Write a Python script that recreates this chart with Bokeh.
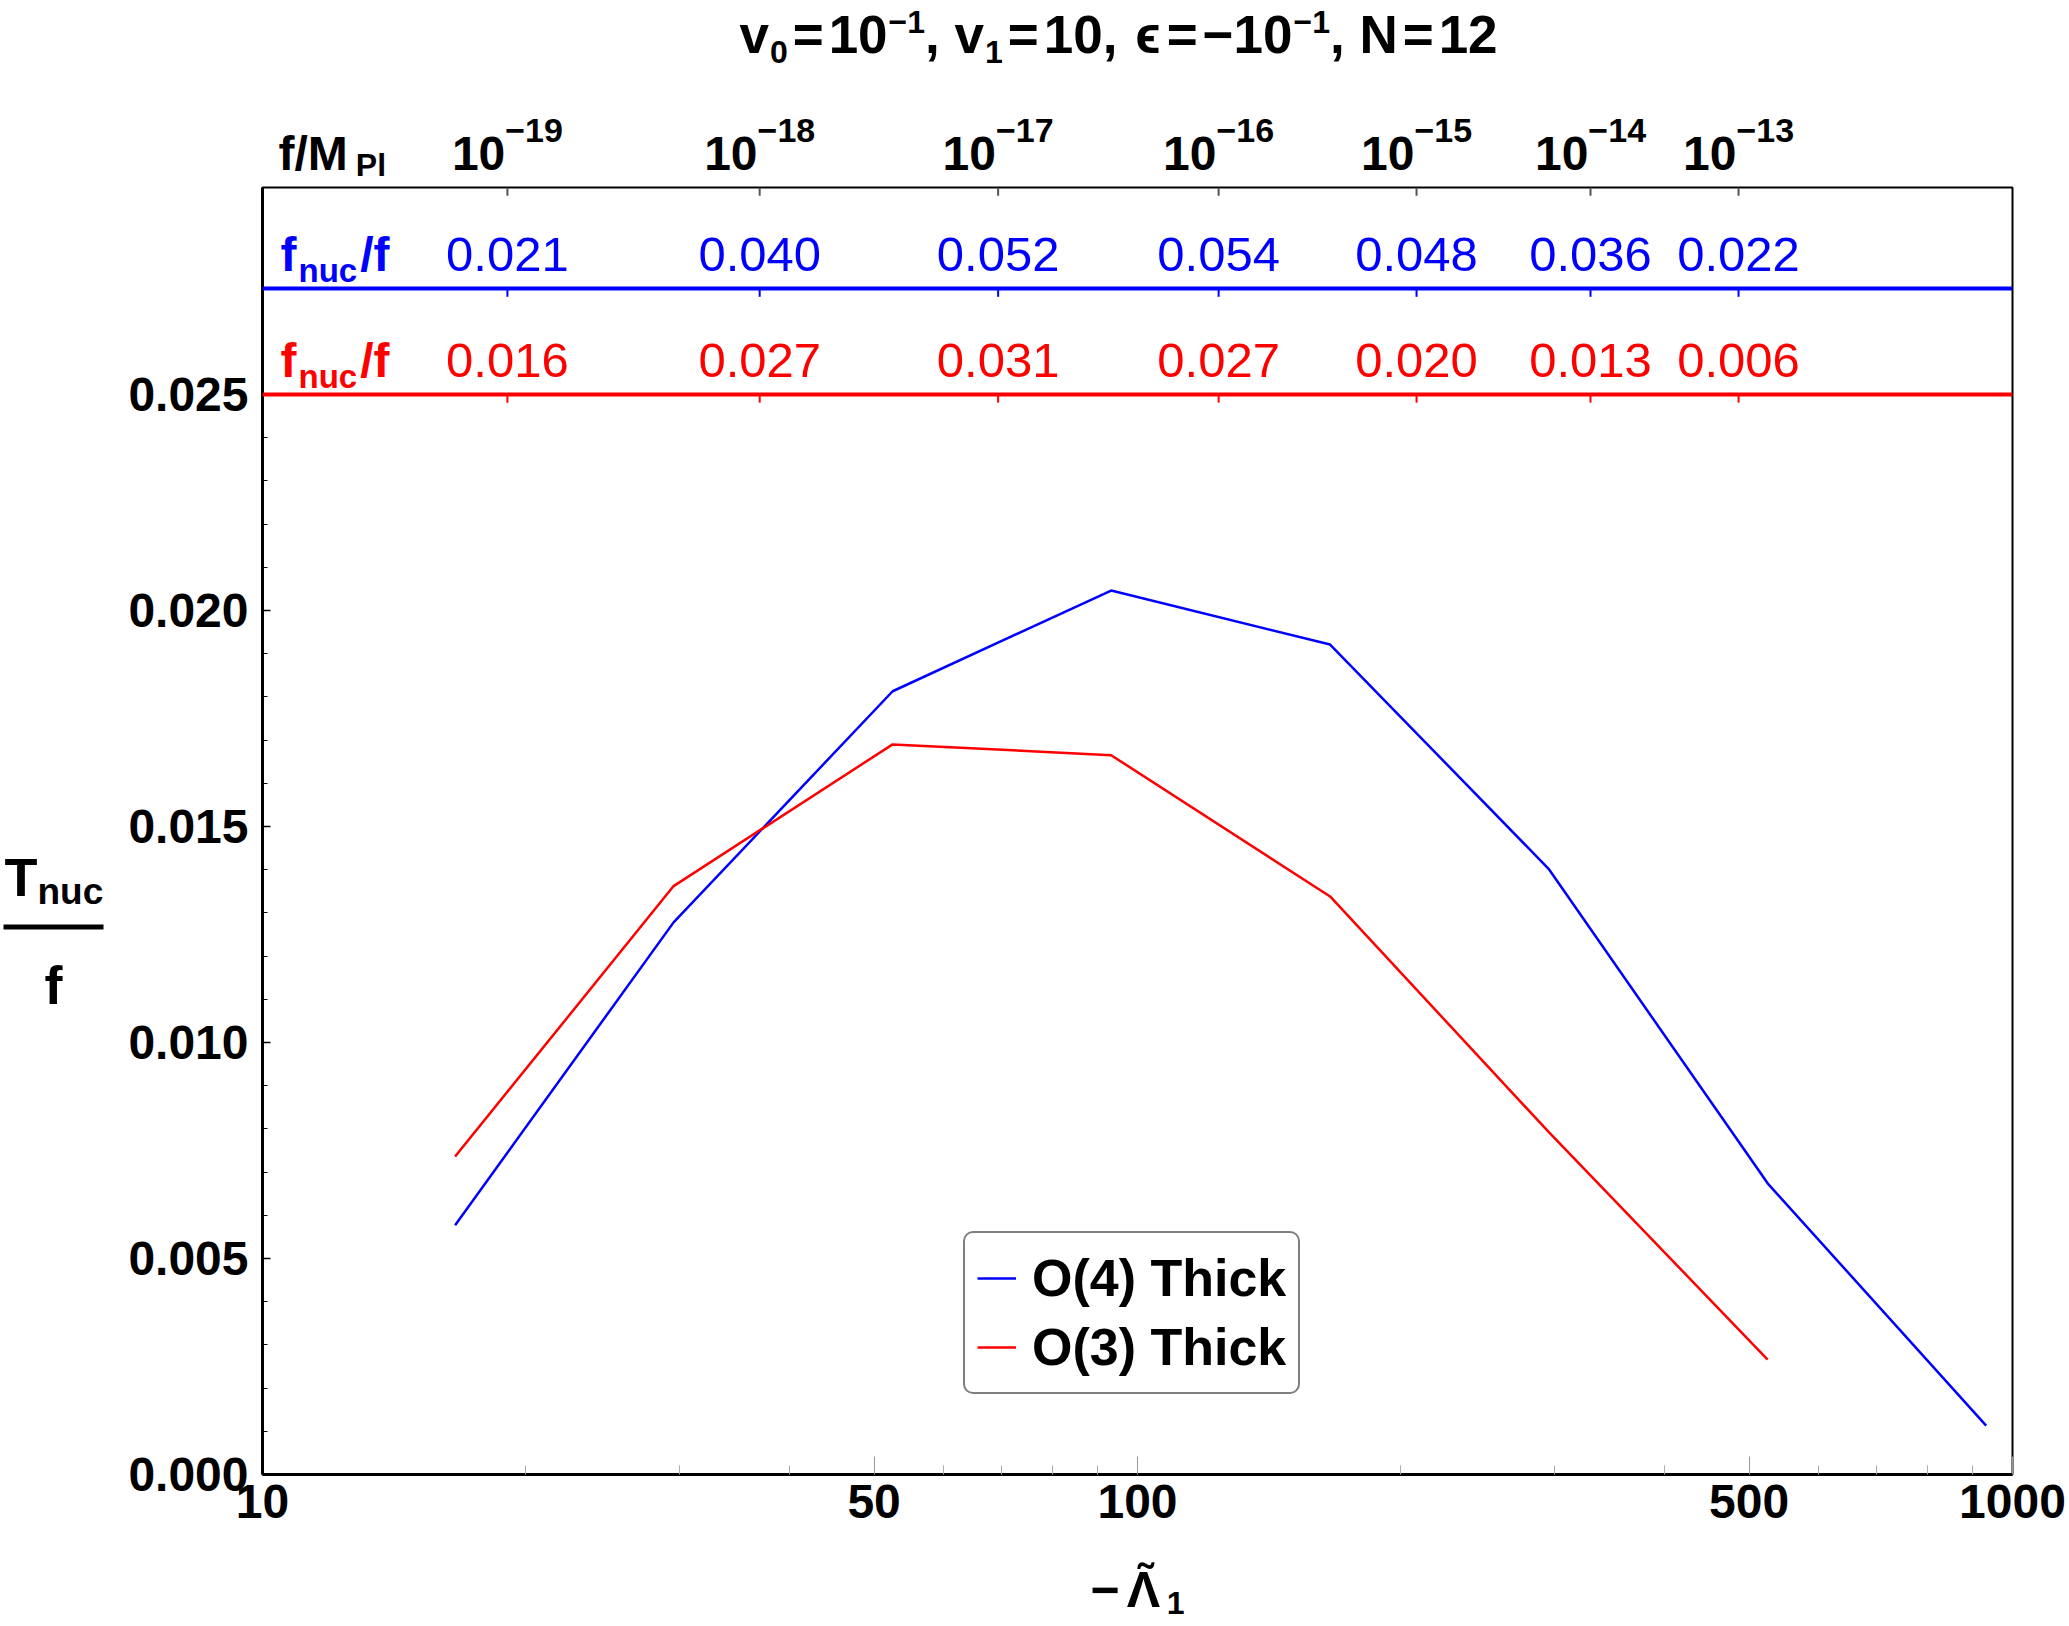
from bokeh.plotting import figure
from bokeh.layouts import column, row
from bokeh.models import (Range1d, FixedTicker, PrintfTickFormatter, Label, Span,
                          Legend, LegendItem, BoxAnnotation)
from bokeh.embed import file_html
from bokeh.resources import INLINE

# ---------------- data ----------------
lam_o4 = [16.6, 29.5, 52.5, 93.3, 166, 295, 525, 933]
tnuc_o4 = [0.00577, 0.01278, 0.01813, 0.02046, 0.01921, 0.01402, 0.00674, 0.00113]
lam_o3 = [16.6, 29.5, 52.5, 93.3, 166, 295, 525]
tnuc_o3 = [0.00736, 0.01362, 0.01690, 0.01665, 0.01338, 0.00793, 0.00266]

top_tick_pos = [19.05, 37.0, 69.3, 123.8, 208.4, 329.4, 486.3]
top_tick_exp = ["−19", "−18", "−17", "−16", "−15", "−14", "−13"]
fnuc_o4 = ["0.021", "0.040", "0.052", "0.054", "0.048", "0.036", "0.022"]
fnuc_o3 = ["0.016", "0.027", "0.031", "0.027", "0.020", "0.013", "0.006"]
BLUE_LINE_Y = 0.02745
RED_LINE_Y = 0.025

x_ticks = [10, 50, 100, 500, 1000]
x_minor = [20, 30, 40, 60, 70, 80, 90, 200, 300, 400, 600, 700, 800, 900]
y_ticks = [0.0, 0.005, 0.010, 0.015, 0.020, 0.025]
y_minor = [0.001, 0.002, 0.003, 0.004, 0.006, 0.007, 0.008, 0.009, 0.011, 0.012,
           0.013, 0.014, 0.016, 0.017, 0.018, 0.019, 0.021, 0.022, 0.023, 0.024]
Y_MAX = 0.02979

# ---------------- layout constants (canvas px) ----------------
W, H = 2069, 1626
FL, FR, FT, FB = 262, 2012, 187, 1474
TOP_H = 184          # top strip: 0 .. 184
MID_B = 1550         # main row: 184 .. 1550
LEFT_W = 110         # left strip for the y label
FONT = "Liberation Sans"
BLUE = "#0000ff"
RED = "#ff0000"
BASE_FIX = 0.375     # alphabetic-baseline correction (fraction of font size)

xr = Range1d(10, 1000)


def strip(width, height, bl, br, log=False):
    f = figure(width=width, height=height, x_range=xr if log else Range1d(0, 1),
               y_range=Range1d(0, 1), x_axis_type="log" if log else "linear",
               x_axis_location=None, y_axis_location=None,
               output_backend="svg", toolbar_location=None,
               min_border_left=bl, min_border_right=br, min_border_top=0,
               min_border_bottom=0)
    f.outline_line_color = None
    f.background_fill_color = "white"
    f.border_fill_color = "white"
    for g in f.renderers + list(f.center):
        if g.__class__.__name__ == "Grid":
            g.visible = False
    f.xgrid.visible = False
    f.ygrid.visible = False
    return f


top = strip(W, TOP_H, FL, W - FR, log=True)
left = strip(LEFT_W, MID_B - TOP_H, 0, 0)
bottom = strip(W, H - MID_B, FL, W - FR, log=True)

p = figure(width=W - LEFT_W, height=MID_B - TOP_H, x_axis_type="log", x_range=xr,
           y_range=Range1d(0, Y_MAX), output_backend="svg", toolbar_location=None,
           min_border_left=FL - LEFT_W, min_border_right=W - FR,
           min_border_top=FT - TOP_H, min_border_bottom=MID_B - FB)
p.grid.visible = False
p.outline_line_color = "black"
p.outline_line_width = 2
p.background_fill_color = "white"
p.border_fill_color = "white"

# bottom axis
xa = p.xaxis[0]
xa.ticker = FixedTicker(ticks=x_ticks, minor_ticks=x_minor)
xa.formatter = PrintfTickFormatter(format="%d")
xa.major_tick_in = 18
xa.major_tick_out = 0
xa.minor_tick_in = 9
xa.minor_tick_out = 0
xa.major_tick_line_color = "#999999"
xa.minor_tick_line_color = "#aaaaaa"
xa.axis_line_width = 3
xa.major_label_text_font = FONT
xa.major_label_text_font_style = "bold"
xa.major_label_text_font_size = "48px"
xa.major_label_text_color = "black"
xa.major_label_standoff = 10

# left axis
ya = p.yaxis[0]
ya.ticker = FixedTicker(ticks=y_ticks, minor_ticks=y_minor)
ya.formatter = PrintfTickFormatter(format="%.3f")
ya.major_tick_in = 8
ya.major_tick_out = 0
ya.minor_tick_in = 5
ya.minor_tick_out = 0
ya.major_tick_line_width = 1.5
ya.axis_line_width = 3
ya.major_label_text_font = FONT
ya.major_label_text_font_style = "bold"
ya.major_label_text_font_size = "48px"
ya.major_label_text_color = "black"
ya.major_label_standoff = 14

# ticks of the f/M_Pl scale: at the frame top and under the two f_nuc/f lines
n = len(top_tick_pos)
TK = 0.00019
p.segment(x0=top_tick_pos, x1=top_tick_pos, y0=[Y_MAX] * n, y1=[Y_MAX - TK] * n,
          line_color="#555555", line_width=2)
p.add_layout(Span(location=BLUE_LINE_Y, dimension="width", line_color=BLUE, line_width=4))
p.add_layout(Span(location=RED_LINE_Y, dimension="width", line_color=RED, line_width=4))
p.segment(x0=top_tick_pos, x1=top_tick_pos, y0=[BLUE_LINE_Y] * n,
          y1=[BLUE_LINE_Y - TK] * n, line_color=BLUE, line_width=2)
p.segment(x0=top_tick_pos, x1=top_tick_pos, y0=[RED_LINE_Y] * n,
          y1=[RED_LINE_Y - TK] * n, line_color=RED, line_width=2)

# ---------------- data lines ----------------
r4 = p.line(lam_o4, tnuc_o4, line_color=BLUE, line_width=2.5)
r3 = p.line(lam_o3, tnuc_o3, line_color=RED, line_width=2.5)

legend = Legend(items=[LegendItem(label="O(4) Thick", renderers=[r4]),
                       LegendItem(label="O(3) Thick", renderers=[r3])],
                location=(963 - FL, FB - 1394))
legend.label_text_font = FONT
legend.label_text_font_style = "bold"
legend.label_text_font_size = "52px"
legend.label_text_color = "black"
legend.glyph_width = 39
legend.glyph_height = 66
legend.label_height = 66
legend.label_standoff = 16
legend.padding = 12
legend.spacing = 3
legend.margin = 0
legend.border_line_color = "black"
legend.border_line_width = 2
legend.background_fill_color = "white"
legend.background_fill_alpha = 1
if "border_radius" in Legend.properties():
    legend.border_radius = 10
p.add_layout(legend)

# ---------------- rich text helper ----------------
BW = {' ': .278, ',': .278, '.': .278, '/': .278, '(': .333, ')': .333, '=': .584,
      '−': .584, '-': .333, 'N': .722, 'M': .833, 'O': .778, 'P': .667, 'T': .611,
      'c': .556, 'f': .333, 'h': .611, 'i': .278, 'k': .556, 'l': .278, 'n': .611,
      'u': .611, 'v': .556, 'Λ': .722, 'ϵ': .5, '\u0303': 0.0}
RW = {'.': .278}


def tw(s, size, bold):
    t = BW if bold else RW
    return sum(t.get(c, .556) for c in s) * size


def rich(fig, org, segs, x, base, align="center", x_units="screen", color="black"):
    """org: canvas (x, y) of fig's frame left / bottom.
    segs: (text, size_px, baseline_shift_px(+down), bold, gap_after_px)"""
    ox, oy = org
    total = sum(tw(t, s, b) + g for t, s, dy, b, g in segs)
    off = -total / 2 if align == "center" else 0.0
    xv = x - ox if x_units == "screen" else x
    for t, s, dy, b, g in segs:
        fig.add_layout(Label(x=xv, y=oy - (base + dy - BASE_FIX * s), x_units=x_units,
                             y_units="screen", x_offset=off, text=t, text_font=FONT,
                             text_font_size=f"{s}px",
                             text_font_style="bold" if b else "normal",
                             text_color=color, text_align="left",
                             text_baseline="alphabetic"))
        off += tw(t, s, b) + g


TOP_ORG = (FL, TOP_H)
MAIN_ORG = (FL, FB)
LEFT_ORG = (0, FB)     # frames of a row are aligned with the main frame
BOT_ORG = (FL, H)

# title
M, S = 53, 32
rich(top, TOP_ORG,
     [("v", M, 0, True, 1), ("0", S, 9, True, 5), ("=", M, 0, True, 5), ("10", M, 0, True, 1),
      ("−1", S, -21, True, 0), (", v", M, 0, True, 1), ("1", S, 9, True, 5),
      ("=", M, 0, True, 5), ("10, ", M, 0, True, 3), ("ϵ", M, 0, True, 5),
      ("=", M, 0, True, 5), ("−10", M, 0, True, 1), ("−1", S, -21, True, 0),
      (", N", M, 0, True, 5), ("=", M, 0, True, 5), ("12", M, 0, True, 0)],
     1118, 54)

# f/M_Pl scale labels
rich(top, TOP_ORG, [("f/M", 48, 0, True, 8), ("Pl", 32, 5, True, 0)], 278, 171,
     align="left")
for pos, ex in zip(top_tick_pos, top_tick_exp):
    rich(top, TOP_ORG, [("10", 48, 0, True, 0), (ex, 34, -28, True, 0)], pos, 171,
         x_units="data")

# f_nuc / f rows (inside the main frame)
for base, col, vals in [(272, BLUE, fnuc_o4), (378, RED, fnuc_o3)]:
    rich(p, MAIN_ORG, [("f", 48, 0, True, 2), ("nuc", 33, 10, True, 3), ("/f", 48, 0, True, 0)],
         280, base, align="left", color=col)
    for pos, v in zip(top_tick_pos, vals):
        rich(p, MAIN_ORG, [(v, 49, 0, False, 0)], pos, base, x_units="data", color=col)

# y axis label as a fraction
rich(left, LEFT_ORG, [("T", 54, 0, True, 0), ("nuc", 37, 8, True, 0)], 4, 897, align="left")
left.add_layout(BoxAnnotation(left=3, right=103, bottom=FB - 929, top=FB - 924,
                              left_units="screen", right_units="screen",
                              top_units="screen", bottom_units="screen",
                              fill_color="black", fill_alpha=1, line_color=None))
rich(left, LEFT_ORG, [("f", 54, 0, True, 0)], 53, 1005)

# x axis label
rich(bottom, BOT_ORG, [("−", 50, 0, True, 7), ("Λ\u0303", 50, 0, True, 4), ("1", 32, 6, True, 0)],
     1137, 1608)

layout = column(top, row(left, p), bottom)
open("out.html", "w").write(file_html(layout, INLINE))
